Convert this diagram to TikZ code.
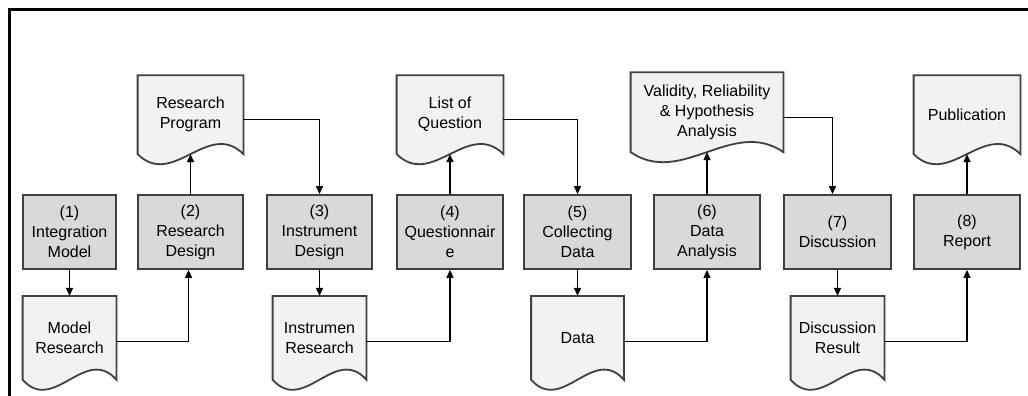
\documentclass[tikz,border=0pt]{standalone}
\usepackage{fontspec}
\setmainfont{Liberation Sans}
\usetikzlibrary{arrows.meta, positioning, calc, backgrounds}
\definecolor{boxgray}{HTML}{D9D9D9}
\definecolor{docgray}{HTML}{F2F2F2}
\definecolor{edgegray}{HTML}{404040}
\tikzstyle{stage} = [rectangle, minimum height=37pt, inner sep=1pt, align=center, text centered, draw=edgegray, line width=0.9pt, fill=boxgray, font=\fontsize{8}{10}\selectfont]
\tikzstyle{doc} = [rectangle, minimum height=39pt, inner sep=1pt, align=center, text centered, font=\fontsize{8}{10}\selectfont]
\tikzstyle{docline} = [draw=edgegray, line width=0.9pt, fill=docgray]
\tikzstyle{arrow} = [line width=0.6pt, -{Triangle[length=4pt,width=3.5pt]}]

\begin{document}
\begin{tikzpicture}[x=0.5pt, y=-0.5pt]
    \useasboundingbox (0,0) rectangle (1028,396);
    \draw[line width=1.5pt] (9,420) |- (1050,9);

    % stages
    \node (b1) [stage, minimum width=46.5pt] at (69.5,232) {(1)\\Integration\\Model};
    \node (b2) [stage, minimum width=52.5pt] at (190.5,232) {(2)\\Research\\Design};
    \node (b3) [stage, minimum width=52.5pt] at (319.5,232) {(3)\\Instrument\\Design};
    \node (b4) [stage, minimum width=53pt] at (450,232) {(4)\\Questionnair\\e};
    \node (b5) [stage, minimum width=53.5pt] at (577.5,232) {(5)\\Collecting\\Data};
    \node (b6) [stage, minimum width=53pt] at (707,232) {(6)\\Data\\Analysis};
    \node (b7) [stage, minimum width=53.5pt] at (837.5,232) {(7)\\Discussion};
    \node (b8) [stage, minimum width=53pt] at (967,232) {(8)\\Report};

    % documents
    \node (mr) [doc, minimum width=46.5pt, minimum height=41.5pt, below=13pt of b1] {Model\\Research};
    \node (rp) [doc, minimum width=52.5pt, above=20pt of b2] {Research\\Program};
    \node (ir) [doc, minimum width=46.5pt, minimum height=41.5pt, below=13pt of b3] {Instrumen\\Research};
    \node (lq) [doc, minimum width=53pt, above=20pt of b4] {List of\\Question};
    \node (dt) [doc, minimum width=46pt, minimum height=41.5pt, below=13pt of b5] {Data};
    \node (vr) [doc, minimum width=76pt, minimum height=39.5pt, above=21pt of b6] {Validity, Reliability\\\& Hypothesis\\Analysis};
    \node (dr) [doc, minimum width=46.5pt, minimum height=41.5pt, below=13pt of b7] {Discussion\\Result};
    \node (pb) [doc, minimum width=53pt, above=20pt of b8] {Publication};

    \begin{scope}[on background layer]
        \foreach \d in {mr,rp,ir,lq,dt,vr,dr,pb}
            \draw[docline] (\d.north west) -- (\d.north east) -- (\d.south east)
                .. controls ($(\d.south east)!1/3!(\d.south west)+(0,-35)$)
                and ($(\d.south west)!1/3!(\d.south east)+(0,35)$) .. (\d.south west) -- cycle;
    \end{scope}

    \draw [arrow] (b1) -- (mr);
    \draw [arrow] ([yshift=-2pt]mr.east) -| ([xshift=-1pt]b2.south);
    \draw [arrow] (b2) -- (rp.south);
    \draw [arrow] ([yshift=-2.5pt]rp.east) -| (b3.north);
    \draw [arrow] (b3) -- (ir);
    \draw [arrow] ([yshift=-2pt]ir.east) -| (b4.south);
    \draw [arrow] (b4) -- (lq.south);
    \draw [arrow] ([yshift=-2.5pt]lq.east) -| (b5.north);
    \draw [arrow] (b5) -- (dt);
    \draw [arrow] ([yshift=-2pt]dt.east) -| (b6.south);
    \draw [arrow] (b6) -- (vr.south);
    \draw [arrow] ([yshift=-2.5pt]vr.east) -| ([xshift=-2.5pt]b7.north);
    \draw [arrow] (b7) -- (dr);
    \draw [arrow] ([yshift=-2pt]dr.east) -| (b8.south);
    \draw [arrow] (b8) -- (pb.south);
\end{tikzpicture}
\end{document}
